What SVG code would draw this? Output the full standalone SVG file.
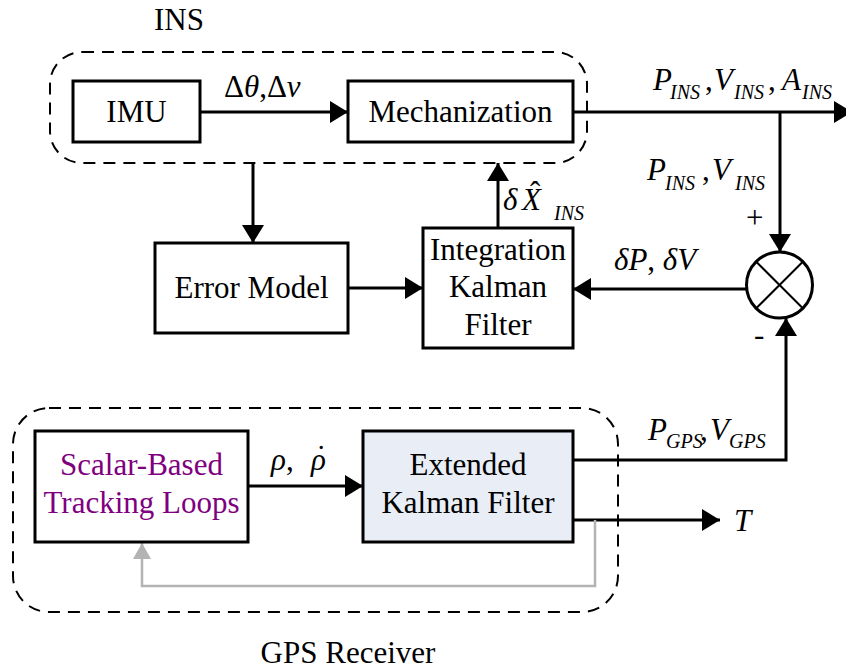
<svg xmlns="http://www.w3.org/2000/svg" width="846" height="671" viewBox="0 0 846 671" font-family="Liberation Serif, Tinos, Times New Roman, DejaVu Serif, serif">
  <style>
    .box { fill: #ffffff; stroke: #000000; stroke-width: 3; }
    .ekf { fill: #e9eef6; stroke: #000000; stroke-width: 3; }
    .group { fill: none; stroke: #000000; stroke-width: 2; stroke-dasharray: 12 8; }
    .wire { fill: none; stroke: #000000; stroke-width: 3; }
    .fb { fill: none; stroke: #b3b3b3; stroke-width: 2.5; }
    .lbl { font-size: 31px; }
    .purple { fill: #7f007f; }
    .math { font-size: 31px; font-style: italic; }
    .sub { font-size: 20px; }
    .up { font-style: normal; }
  </style>
  <defs>
    <marker id="arrow" markerUnits="userSpaceOnUse" markerWidth="20" markerHeight="24" refX="18" refY="11" orient="auto">
      <path d="M0,0 L18,11 L0,22 Z" fill="#000000"/>
    </marker>
    <marker id="arrowGray" markerUnits="userSpaceOnUse" markerWidth="18" markerHeight="20" refX="16" refY="9" orient="auto">
      <path d="M0,0 L16,9 L0,18 Z" fill="#b3b3b3"/>
    </marker>
  </defs>

  <!-- subsystem frames -->
  <g id="ins-frame">
    <rect class="group" x="50" y="52" width="537" height="111" rx="32"/>
    <text class="lbl" x="179" y="30" text-anchor="middle" font-family="Liberation Serif, serif">INS</text>
  </g>
  <g id="gps-frame">
    <rect class="group" x="13" y="408" width="605" height="204" rx="36"/>
    <text class="lbl" x="348" y="663" text-anchor="middle" font-family="Liberation Serif, serif">GPS Receiver</text>
  </g>

  <!-- connectors -->
  <g id="connectors">
    <line class="wire" x1="200" y1="112" x2="348" y2="112" marker-end="url(#arrow)"/>
    <line class="wire" x1="573" y1="112" x2="852" y2="112" marker-end="url(#arrow)"/>
    <line class="wire" x1="780" y1="112" x2="780" y2="252" marker-end="url(#arrow)"/>
    <line class="wire" x1="253" y1="163" x2="253" y2="243" marker-end="url(#arrow)"/>
    <line class="wire" x1="498" y1="228" x2="498" y2="163" marker-end="url(#arrow)"/>
    <line class="wire" x1="348" y1="288" x2="423" y2="288" marker-end="url(#arrow)"/>
    <line class="wire" x1="746" y1="289" x2="573" y2="289" marker-end="url(#arrow)"/>
    <polyline class="wire" points="573,460 786,460 786,318" marker-end="url(#arrow)"/>
    <line class="wire" x1="248" y1="486" x2="363" y2="486" marker-end="url(#arrow)"/>
    <line class="wire" x1="573" y1="520" x2="720" y2="520" marker-end="url(#arrow)"/>
    <polyline class="fb" points="595,520 595,586 142,586 142,543" marker-end="url(#arrowGray)"/>
  </g>

  <!-- connector labels -->
  <g id="labels">
    <text class="math" x="224" y="97"><tspan class="up">Δ</tspan>θ<tspan class="up">,Δ</tspan>v</text>
    <text class="math" x="653" y="90">P<tspan class="sub" x="670" y="99">INS</tspan><tspan x="705" y="90" class="up">,</tspan><tspan x="714" y="90">V</tspan><tspan class="sub" x="734" y="99">INS</tspan><tspan x="768" y="90" class="up">,</tspan><tspan x="782" y="90">A</tspan><tspan class="sub" x="802" y="99">INS</tspan></text>
    <text class="math" x="647" y="180">P<tspan class="sub" x="665" y="190">INS</tspan><tspan x="702" y="180" class="up">,</tspan><tspan x="712" y="180">V</tspan><tspan class="sub" x="735" y="190">INS</tspan></text>
    <text class="lbl" x="746" y="228" font-size="24">+</text>
    <text class="lbl" x="754" y="345" font-size="26">-</text>
    <text class="math" x="503" y="210">δ<tspan x="522">X</tspan><tspan class="sub" x="554" y="220">INS</tspan></text>
    <text class="lbl" x="530" y="203" font-size="28">ˆ</text>
    <text class="math" x="614" y="270">δP<tspan class="up">, </tspan>δV</text>
    <text class="math" x="648" y="440">P<tspan class="sub" x="666" y="448">GPS</tspan><tspan x="700" y="440" class="up">,</tspan><tspan x="710" y="440">V</tspan><tspan class="sub" x="729" y="448">GPS</tspan></text>
    <text class="math" x="271" y="470">ρ<tspan class="up">,</tspan><tspan x="311">ρ</tspan></text>
    <text class="lbl" x="316" y="467" font-size="28">˙</text>
    <text class="math" x="734" y="531" font-size="33">T</text>
  </g>

  <!-- nodes -->
  <g id="imu">
    <rect class="box" x="73" y="81" width="127" height="61"/>
    <text class="lbl" x="136.5" y="122" text-anchor="middle">IMU</text>
  </g>
  <g id="mechanization">
    <rect class="box" x="348" y="81" width="225" height="61"/>
    <text class="lbl" x="460.5" y="122" text-anchor="middle">Mechanization</text>
  </g>
  <g id="error-model">
    <rect class="box" x="155" y="243" width="193" height="90"/>
    <text class="lbl" x="251.5" y="298" text-anchor="middle">Error Model</text>
  </g>
  <g id="integration-kf">
    <rect class="box" x="423" y="228" width="150" height="120"/>
    <text class="lbl" x="498" y="260" text-anchor="middle">Integration</text>
    <text class="lbl" x="498" y="297" text-anchor="middle">Kalman</text>
    <text class="lbl" x="498" y="335" text-anchor="middle">Filter</text>
  </g>
  <g id="sum-junction">
    <circle cx="779.5" cy="285" r="33" fill="#ffffff" stroke="#000000" stroke-width="3"/>
    <line x1="756.2" y1="261.7" x2="802.8" y2="308.3" stroke="#000000" stroke-width="2"/>
    <line x1="802.8" y1="261.7" x2="756.2" y2="308.3" stroke="#000000" stroke-width="2"/>
  </g>
  <g id="tracking-loops">
    <rect class="box" x="35" y="431" width="213" height="111"/>
    <text class="lbl purple" x="141.5" y="475" text-anchor="middle">Scalar-Based</text>
    <text class="lbl purple" x="141.5" y="513" text-anchor="middle">Tracking Loops</text>
  </g>
  <g id="ekf">
    <rect class="ekf" x="363" y="431" width="210" height="111"/>
    <text class="lbl" x="468" y="475" text-anchor="middle">Extended</text>
    <text class="lbl" x="468" y="513" text-anchor="middle">Kalman Filter</text>
  </g>
</svg>
